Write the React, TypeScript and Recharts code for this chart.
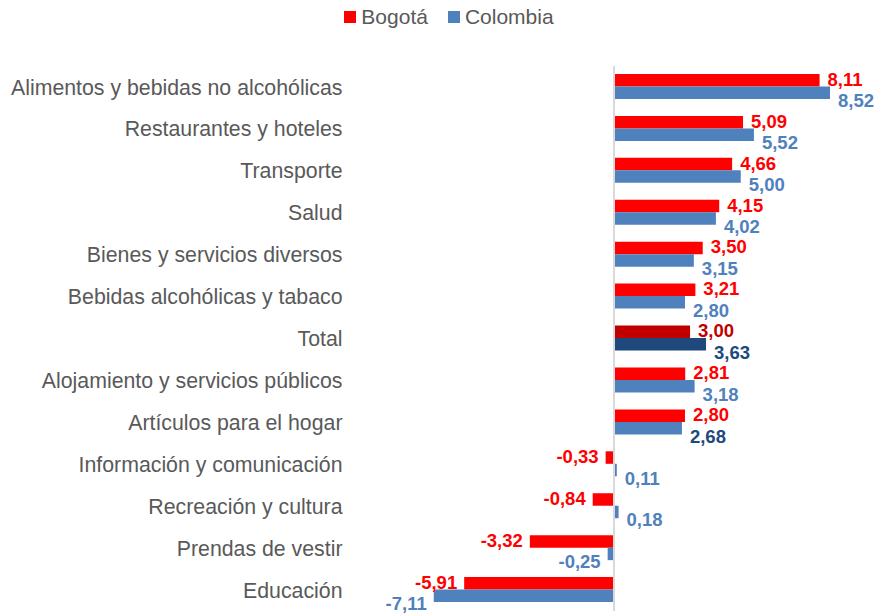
import React from 'react';
import { BarChart, Bar, XAxis, YAxis, Cell, LabelList, ReferenceLine, Legend } from 'recharts';

const categories = [
  'Alimentos y bebidas no alcohólicas',
  'Restaurantes y hoteles',
  'Transporte',
  'Salud',
  'Bienes y servicios diversos',
  'Bebidas alcohólicas y tabaco',
  'Total',
  'Alojamiento y servicios públicos',
  'Artículos para el hogar',
  'Información y comunicación',
  'Recreación y cultura',
  'Prendas de vestir',
  'Educación',
];
const bogota = [8.11, 5.09, 4.66, 4.15, 3.5, 3.21, 3.0, 2.81, 2.8, -0.33, -0.84, -3.32, -5.91];
const colombia = [8.52, 5.52, 5.0, 4.02, 3.15, 2.8, 3.63, 3.18, 2.68, 0.11, 0.18, -0.25, -7.11];
const seriesNames = ['Bogotá', 'Colombia'];
const darkBarCategories = ['Total'];
const darkColombiaLabelCategories = ['Total', 'Artículos para el hogar'];

const RED = '#FF0000';
const DARK_RED = '#C00000';
const BLUE = '#4F81BD';
const DARK_BLUE = '#1F497D';
const FONT = '"Liberation Sans", Arial, sans-serif';

const data = categories.map((name, i) => ({ name, bogota: bogota[i], colombia: colombia[i] }));

const fmt = (v: number) => v.toFixed(2).replace('.', ',');

const makeLabel = (series: 'bogota' | 'colombia') => (props: any) => {
  const { x, y, width, height, value, index } = props;
  const cat = categories[index];
  const x0 = Number(x);
  const w = Number(width);
  const v = Number(value);
  const end = v >= 0 ? Math.max(x0, x0 + w) : Math.min(x0, x0 + w);
  const tx = v >= 0 ? end + 8 : end - 7;
  const cy = Number(y) + Number(height) / 2 + (series === 'colombia' ? 8 : -1);
  let fill: string;
  if (series === 'bogota') fill = darkBarCategories.includes(cat) ? DARK_RED : RED;
  else fill = darkColombiaLabelCategories.includes(cat) ? DARK_BLUE : BLUE;
  return (
    <text
      x={tx}
      y={cy}
      textAnchor={v >= 0 ? 'start' : 'end'}
      dominantBaseline="central"
      fill={fill}
      fontSize={18.5}
      fontWeight="bold"
      fontFamily={FONT}
    >
      {fmt(v)}
    </text>
  );
};

const LegendContent = () => (
  <div
    style={{
      display: 'flex',
      justifyContent: 'center',
      alignItems: 'center',
      fontFamily: FONT,
      fontSize: 21,
      color: '#595959',
      height: 30,
    }}
  >
    {seriesNames.map((n, i) => (
      <span key={n} style={{ display: 'flex', alignItems: 'center', marginRight: i === 0 ? 20 : 0 }}>
        <span
          style={{
            display: 'inline-block',
            width: 12,
            height: 12,
            background: i === 0 ? RED : BLUE,
            marginRight: 5,
          }}
        />
        {n}
      </span>
    ))}
  </div>
);

export default function App() {
  return (
    <div style={{ position: 'absolute', left: 0, top: 0, width: 876, height: 615, background: '#fff' }}>
      <BarChart
        width={876}
        height={615}
        data={data}
        layout="vertical"
        margin={{ top: 66, right: 8.5, bottom: 4, left: 0 }}
        barSize={12.5}
        barGap={0}
      >
        <XAxis type="number" domain={[-10, 10]} hide />
        <YAxis
          type="category"
          dataKey="name"
          width={360.5}
          axisLine={false}
          tickLine={false}
          tickMargin={12}
          interval={0}
          tick={{ fill: '#595959', fontSize: 21.3, fontFamily: FONT }}
        />
        <Legend
          verticalAlign="middle"
          align="center"
          content={<LegendContent />}
          wrapperStyle={{ top: 2, left: 11, width: 876 }}
        />
        <ReferenceLine x={0} stroke="#D9D9D9" strokeWidth={2} ifOverflow="extendDomain" />
        <Bar dataKey="bogota" name={seriesNames[0]} fill={RED} isAnimationActive={false}>
          {data.map((d) => (
            <Cell key={d.name} fill={darkBarCategories.includes(d.name) ? DARK_RED : RED} />
          ))}
          <LabelList dataKey="bogota" content={makeLabel('bogota')} />
        </Bar>
        <Bar dataKey="colombia" name={seriesNames[1]} fill={BLUE} isAnimationActive={false}>
          {data.map((d) => (
            <Cell key={d.name} fill={darkBarCategories.includes(d.name) ? DARK_BLUE : BLUE} />
          ))}
          <LabelList dataKey="colombia" content={makeLabel('colombia')} />
        </Bar>
      </BarChart>
    </div>
  );
}
